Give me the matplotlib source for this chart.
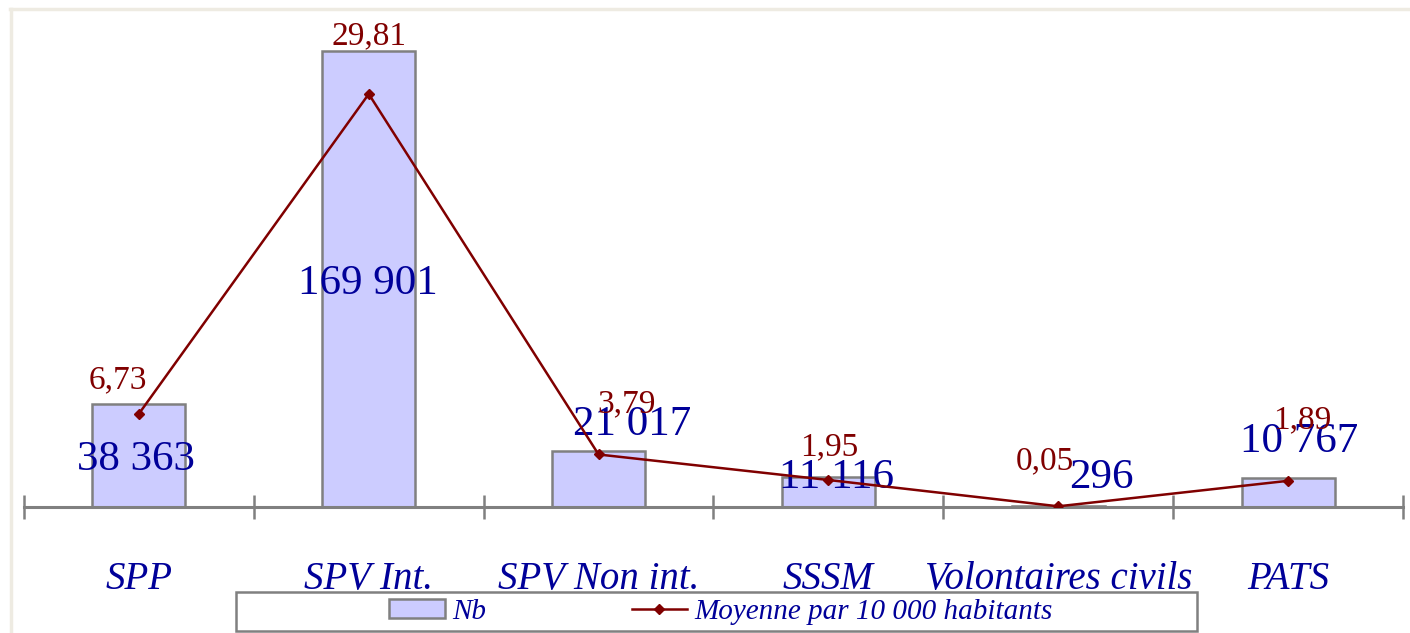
import matplotlib.pyplot as plt
import numpy as np
from matplotlib.patches import Rectangle, Patch
from matplotlib.lines import Line2D

plt.rcParams['font.family'] = ['Liberation Serif', 'DejaVu Serif']

# data
categories = ['SPP', 'SPV Int.', 'SPV Non int.', 'SSSM', 'Volontaires civils', 'PATS']
nb = [38363, 169901, 21017, 11116, 296, 10767]
moyenne = [6.73, 29.81, 3.79, 1.95, 0.05, 1.89]

# label shifts in pixels (labels were moved by hand in the original)
nb_shift = [(-3, -4), (-1, -5), (34, 54), (8, 14), (43, 29), (11, 51)]
moy_shift = [(-21, 34), (0, 58), (28, 50), (1, 33), (-13, 45), (14, 61)]

blue = '#000099'
red = '#800000'
grey = '#808080'

W, H = 1410, 633
fig = plt.figure(figsize=(W / 100, H / 100), dpi=100)
fig.patch.set_facecolor('white')

# beige frame on top and left
fig.add_artist(Line2D([10 / W, 1], [1 - 9 / H, 1 - 9 / H], color='#EEEBE2', lw=2.5, transform=fig.transFigure))
fig.add_artist(Line2D([11 / W, 11 / W], [0, 1 - 9 / H], color='#EEEBE2', lw=2.5, transform=fig.transFigure))

ax = fig.add_axes([24 / W, (H - 507) / H, 1379 / W, (507 - 20) / H])
x = np.arange(len(categories))
ax.bar(x, nb, width=0.405, color='#CCCCFF', edgecolor=grey, linewidth=1.8, zorder=2)
ax.set_xlim(-0.5, len(categories) - 0.5)
ax.set_ylim(0, 181450)
ax.set_yticks([])
for s in ['top', 'left', 'right']:
    ax.spines[s].set_visible(False)
ax.spines['bottom'].set_color(grey)
ax.spines['bottom'].set_linewidth(2.2)

ax.set_xticks(np.arange(-0.5, len(categories), 1))
ax.set_xticklabels([])
ax.tick_params(axis='x', which='major', direction='inout', length=17, width=1.8, color=grey)
ax.set_xticks(x, minor=True)
ax.set_xticklabels(categories, minor=True, fontsize=28, style='italic', color=blue)
ax.tick_params(axis='x', which='minor', length=0, pad=39)

for i, v in enumerate(nb):
    ax.annotate(f'{v:,}'.replace(',', ' '), (x[i], v / 2), xytext=nb_shift[i],
                textcoords='offset pixels', ha='center', va='center',
                fontsize=31, color=blue)

ax2 = ax.twinx()
ax2.plot(x, moyenne, color=red, lw=1.8, marker='D', markersize=5.5, zorder=3)
ax2.set_ylim(0, 35.15)
ax2.set_yticks([])
for s in ax2.spines.values():
    s.set_visible(False)

for i, v in enumerate(moyenne):
    ax2.annotate(f'{v:.2f}'.replace('.', ','), (x[i], v), xytext=moy_shift[i],
                 textcoords='offset pixels', ha='center', va='center',
                 fontsize=24, color=red)

# legend with its own frame
fig.add_artist(Rectangle((236 / W, 1 - 631 / H), (1197 - 236) / W, 39 / H,
                         transform=fig.transFigure, fill=False, ec=grey, lw=1.8))
handles = [Patch(facecolor='#CCCCFF', edgecolor=grey, linewidth=1.8),
           Line2D([], [], color=red, lw=1.8, marker='D', markersize=5.5)]
leg = fig.legend(handles, ['Nb', 'Moyenne par 10 000 habitants'], loc='center',
                 bbox_to_anchor=(721 / W, 1 - 612 / H), ncol=2, frameon=False,
                 handlelength=1.9, handleheight=0.6, handletextpad=0.25, columnspacing=5.0,
                 prop={'size': 21, 'style': 'italic'})
for t in leg.get_texts():
    t.set_color(blue)

fig.savefig('out.png', dpi=100)
